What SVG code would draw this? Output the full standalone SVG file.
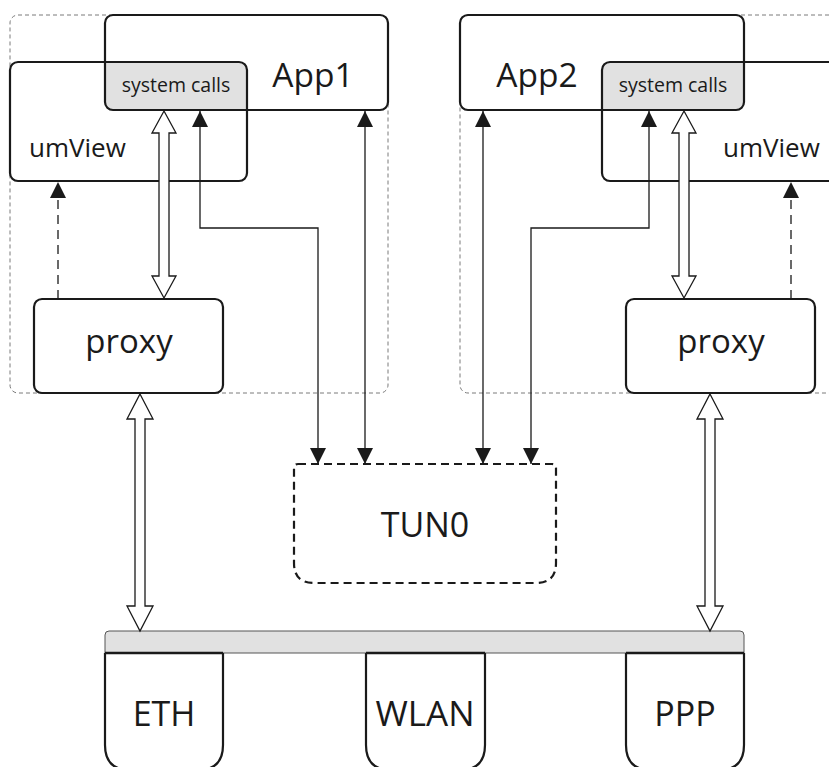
<svg xmlns="http://www.w3.org/2000/svg" width="829" height="767" viewBox="0 0 829 767">
<style>
text{font-family:"Open Sans","Noto Sans","DejaVu Sans",sans-serif;fill:#1a1a1a}
.box{fill:none;stroke:#1a1a1a;stroke-width:2.2}
.group{fill:none;stroke:#7a7a7a;stroke-width:1;stroke-dasharray:4 3}
.gray{fill:#e1e1e1;stroke:none}
.line{fill:none;stroke:#1a1a1a;stroke-width:1.3}
.dash{fill:none;stroke:#1a1a1a;stroke-width:1.3;stroke-dasharray:9 6}
.hollow{fill:#fff;stroke:#1a1a1a;stroke-width:1.3;stroke-linejoin:miter}
.tun{fill:none;stroke:#1a1a1a;stroke-width:2.2;stroke-dasharray:8 5}
</style>
<defs>
<marker id="ah" viewBox="0 0 16 16" refX="16" refY="8" markerWidth="17" markerHeight="16" markerUnits="userSpaceOnUse" orient="auto-start-reverse">
<path d="M0,0 L16,8 L0,16 Z" fill="#1a1a1a"/>
</marker>
</defs>
<rect width="829" height="767" fill="#fff"/>

<g id="host1">
<rect class="group" x="10" y="15" width="378" height="378" rx="8"/>
</g>
<g id="host2">
<rect class="group" x="460" y="15" width="390" height="378" rx="8"/>
</g>

<g id="syscalls1">
<path class="gray" d="M105,62 H239 Q247,62 247,70 V110 H113 Q105,110 105,102 Z"/>
<text x="176" y="92" font-size="19.5" text-anchor="middle">system calls</text>
</g>
<g id="syscalls2">
<path class="gray" d="M610,62 H744 V102 Q744,110 736,110 H602 V70 Q602,62 610,62 Z"/>
<text x="673" y="92" font-size="19.5" text-anchor="middle">system calls</text>
</g>

<g id="app1">
<rect class="box" x="105" y="15" width="283" height="95" rx="8"/>
<text x="313" y="87" font-size="33.5" text-anchor="middle">App1</text>
</g>
<g id="umview1">
<rect class="box" x="10" y="62" width="237" height="119" rx="8"/>
<text x="29" y="157" font-size="26">umView</text>
</g>
<g id="app2">
<rect class="box" x="460" y="15" width="284" height="95" rx="8"/>
<text x="537" y="87" font-size="33.5" text-anchor="middle">App2</text>
</g>
<g id="umview2">
<rect class="box" x="602" y="62" width="250" height="119" rx="8"/>
<text x="723" y="157" font-size="26">umView</text>
</g>

<g id="proxy1">
<rect class="box" x="34" y="299" width="189" height="94" rx="8"/>
<text x="129" y="353" font-size="33" text-anchor="middle">proxy</text>
</g>
<g id="proxy2">
<rect class="box" x="626" y="299" width="189" height="94" rx="8"/>
<text x="721" y="353" font-size="33" text-anchor="middle">proxy</text>
</g>

<g id="tun0">
<path class="tun" d="M298,464 H552 Q556,464 556,468 V563 Q556,583 536,583 H314 Q294,583 294,563 V468 Q294,464 298,464 Z"/>
<text x="425" y="537" font-size="34" text-anchor="middle">TUN0</text>
</g>

<g id="bus">
<path d="M105,653 V635 Q105,631 109,631 H740 Q744,631 744,635 V653 Z" fill="#e1e1e1" stroke="#555" stroke-width="1"/>
</g>
<g id="eth">
<path class="box" d="M105,653 V745 Q105,770 130,770 H198 Q223,770 223,745 V653"/>
<line x1="105" y1="653" x2="223" y2="653" stroke="#1a1a1a" stroke-width="2.5"/>
<text x="164" y="726" font-size="34" text-anchor="middle">ETH</text>
</g>
<g id="wlan">
<path class="box" d="M366,653 V745 Q366,770 391,770 H460 Q485,770 485,745 V653"/>
<line x1="366" y1="653" x2="485" y2="653" stroke="#1a1a1a" stroke-width="2.5"/>
<text x="425" y="726" font-size="35" text-anchor="middle">WLAN</text>
</g>
<g id="ppp">
<path class="box" d="M626,653 V745 Q626,770 651,770 H719 Q744,770 744,745 V653"/>
<line x1="626" y1="653" x2="744" y2="653" stroke="#1a1a1a" stroke-width="2.5"/>
<text x="685" y="726" font-size="34" text-anchor="middle">PPP</text>
</g>

<g id="connectors">
<path class="line" d="M200,111 V228 H318 V464" marker-start="url(#ah)" marker-end="url(#ah)"/>
<path class="line" d="M365,111 V464" marker-start="url(#ah)" marker-end="url(#ah)"/>
<path class="line" d="M483,111 V464" marker-start="url(#ah)" marker-end="url(#ah)"/>
<path class="line" d="M649,111 V228 H531 V464" marker-start="url(#ah)" marker-end="url(#ah)"/>
<path class="dash" d="M58,299 V182" marker-end="url(#ah)"/>
<path class="dash" d="M791,299 V182" marker-end="url(#ah)"/>
<polygon class="hollow" points="164,111 176,133 169,133 169,276 176,276 164,298 152,276 159,276 159,133 152,133"/>
<polygon class="hollow" points="684,111 696,133 689,133 689,276 696,276 684,298 672,276 679,276 679,133 672,133"/>
<polygon class="hollow" points="140,394 153,419 145,419 145,606 153,606 140,631 127,606 135,606 135,419 127,419"/>
<polygon class="hollow" points="710,394 723,419 715,419 715,606 723,606 710,631 697,606 705,606 705,419 697,419"/>
</g>
</svg>
